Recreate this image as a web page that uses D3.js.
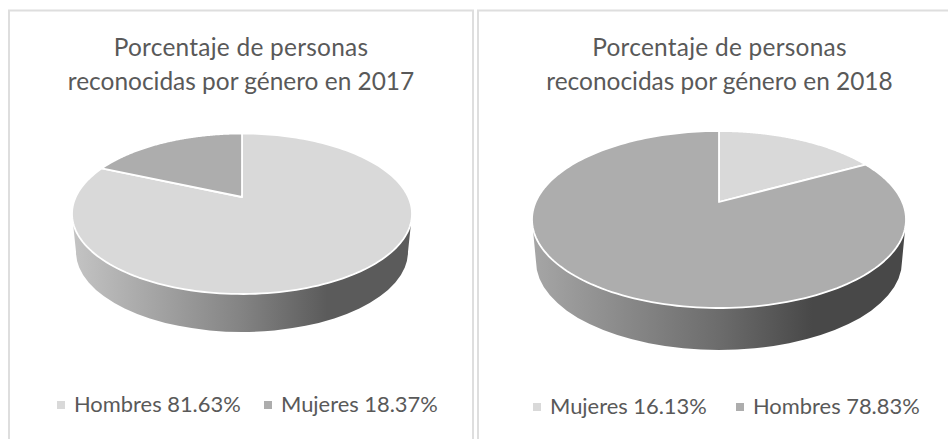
<!DOCTYPE html>
<html>
<head>
<meta charset="utf-8">
<script src="https://cdn.jsdelivr.net/npm/d3@7"></script>
<style>
  html, body { margin: 0; padding: 0; background: #fff; }
  svg { display: block; }
  text { font-family: Lato, sans-serif; fill: #595959; }
</style>
</head>
<body>
<svg id="chart" width="948" height="439"></svg>
<script>
const titles2017 = ["Porcentaje de personas", "reconocidas por género en 2017"];
const labels2017 = ["Hombres", "Mujeres"];
const values2017 = [81.63, 18.37];
const colors2017 = ["#d9d9d9", "#adadad"];

const titles2018 = ["Porcentaje de personas", "reconocidas por género en 2018"];
const labels2018 = ["Mujeres", "Hombres"];
const values2018 = [16.13, 78.83];
const colors2018 = ["#d9d9d9", "#adadad"];

const svg = d3.select("#chart");
const defs = svg.append("defs");

// w: marco, c: centro del pie, top/bot: distancias del centro al borde, rx: ancho
function drawPie(o){
  const g = svg.append("g");

  // marco
  g.append("path")
    .attr("d", "M" + o.frame[0] + ",439V" + o.frameTop + "H" + o.frame[1] + (o.frame[1] < 948 ? "V439" : ""))
    .attr("fill", "none").attr("stroke", "#dedede").attr("stroke-width", 2);

  // titulo
  g.selectAll("text.title").data(o.title).enter().append("text")
    .attr("class", "title")
    .attr("x", o.titleX)
    .attr("y", (d, i) => o.titleY + i * 33.5)
    .attr("text-anchor", "middle")
    .attr("font-size", 24.45)
    .attr("letter-spacing", (d, i) => i == 0 ? 0.25 : 0)
    .text(d => d);

  // perspectiva del disco (homografia del circulo unidad)
  const k = (o.bottom - o.top) / (o.bottom + o.top);
  const H = o.top * (1 + k);
  const R = o.rx * Math.sqrt(1 - k * k);
  const proj = (u, v) => {
    const w = 1 + k * v;
    return [o.cx + R * u / w, o.cy - H * v / w];
  };

  const ecx = o.cx, ecy = o.cy + (o.bottom - o.top) / 2, ery = (o.bottom + o.top) / 2;

  // lateral
  const gradId = "side" + o.id;
  const grad = defs.append("linearGradient").attr("id", gradId)
    .attr("gradientUnits", "userSpaceOnUse")
    .attr("x1", o.cx - o.rx).attr("x2", o.cx + o.rx).attr("y1", 0).attr("y2", 0);
  grad.selectAll("stop").data(o.sideStops).enter().append("stop")
    .attr("offset", d => d[0]).attr("stop-color", d => d[1]);

  const bx = o.rx - o.inset, byc = ecy + o.depth, bry = ery;
  g.append("path")
    .attr("d", "M" + (ecx - o.rx) + "," + ecy +
      "L" + (ecx - bx) + "," + byc +
      "A" + bx + "," + bry + " 0 0 0 " + (ecx + bx) + "," + byc +
      "L" + (ecx + o.rx) + "," + ecy + "Z")
    .attr("fill", "url(#" + gradId + ")");

  // porciones
  const pie = d3.pie().sort(null);
  const line = d3.line();
  const arcs = pie(o.values);
  g.selectAll("path.slice").data(arcs).enter().append("path")
    .attr("class", "slice")
    .attr("fill", (d, i) => o.colors[i])
    .attr("stroke", "#fff").attr("stroke-width", 1.8).attr("stroke-linejoin", "round")
    .attr("d", d => {
      const pts = [[o.cx, o.cy]];
      d3.range(0, 181).forEach(i => {
        const a = d.startAngle + (d.endAngle - d.startAngle) * i / 180;
        pts.push(proj(Math.sin(a), Math.cos(a)));
      });
      return line(pts) + "Z";
    });

  // leyenda
  const lg = g.selectAll("g.leg").data(o.labels).enter().append("g").attr("class", "leg");
  lg.append("rect")
    .attr("x", (d, i) => o.legX[i]).attr("y", o.legY - 10.5)
    .attr("width", 8).attr("height", 8)
    .attr("fill", (d, i) => o.colors[i]);
  lg.append("text")
    .attr("x", (d, i) => o.legX[i] + 17)
    .attr("y", o.legY)
    .attr("font-size", 21.9)
    .text((d, i) => d + " " + o.values[i].toFixed(2) + "%");
}

drawPie({
  id: "a", title: titles2017, labels: labels2017, values: values2017, colors: colors2017,
  frame: [9, 473], frameTop: 10.5, titleX: 241, titleY: 56,
  cx: 242, cy: 197, top: 63.5, bottom: 97, rx: 170, depth: 38, inset: 4,
  sideStops: [[0, "#c4c4c4"], [0.5, "#838383"], [0.75, "#5b5b5b"], [1, "#5b5b5b"]],
  legX: [57, 264], legY: 411.5
});

drawPie({
  id: "b", title: titles2018, labels: labels2018, values: values2018, colors: colors2018,
  frame: [478, 948], frameTop: 10.5, titleX: 719.5, titleY: 56,
  cx: 719, cy: 202, top: 71, bottom: 106, rx: 187, depth: 42, inset: 4,
  sideStops: [[0, "#a6a6a6"], [0.5, "#6c6c6c"], [0.75, "#484848"], [1, "#484848"]],
  legX: [533, 736], legY: 413.5
});
</script>
</body>
</html>
